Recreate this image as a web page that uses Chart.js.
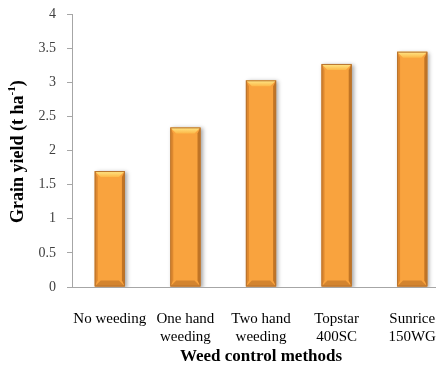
<!DOCTYPE html>
<html>
<head>
<meta charset="utf-8">
<script src="https://cdn.jsdelivr.net/npm/chart.js@4/dist/chart.umd.min.js"></script>
<style>
  html, body { margin: 0; padding: 0; background: #fff; overflow: hidden; }
  #wrap { width: 450px; height: 369px; }
</style>
</head>
<body>
<div id="wrap"><canvas id="yield-chart" width="450" height="369"></canvas></div>
<script>
// ─────────────────────────────────────────────
//  GRAIN YIELD BY WEED CONTROL METHOD
// ─────────────────────────────────────────────

const methods = [
  ['No weeding'],
  ['One hand', 'weeding'],
  ['Two hand', 'weeding'],
  ['Topstar', '400SC'],
  ['Sunrice', '150WG']
];
const grainYield = [1.70, 2.34, 3.03, 3.27, 3.45];
const yTicks = [0, 0.5, 1, 1.5, 2, 2.5, 3, 3.5, 4];

const SERIF = '"Liberation Serif", "Times New Roman", serif';
const AXIS_GREY = '#a6a6a6';

// soft drop shadow behind the bars
const barShadow = {
  id: 'barShadow',
  beforeDatasetsDraw(chart) {
    const ctx = chart.ctx;
    ctx.save();
    ctx.shadowColor = 'rgba(0,0,0,0.35)';
    ctx.shadowBlur = 4;
    ctx.shadowOffsetX = 2;
    ctx.shadowOffsetY = 1;
  },
  afterDatasetsDraw(chart) {
    chart.ctx.restore();
  }
};

// bevelled edges on each bar
const barBevel = {
  id: 'barBevel',
  afterDatasetsDraw(chart) {
    const ctx = chart.ctx;
    const meta = chart.getDatasetMeta(0);
    const b = 6;
    meta.data.forEach(bar => {
      const { x, y, base, width } = bar.getProps(['x', 'y', 'base', 'width'], true);
      const l = x - width / 2, r = x + width / 2;

      ctx.save();
      // left edge
      ctx.fillStyle = 'rgba(200,115,35,0.55)';
      ctx.beginPath();
      ctx.moveTo(l, y); ctx.lineTo(l + 3, y + b); ctx.lineTo(l + 3, base - b); ctx.lineTo(l, base);
      ctx.closePath(); ctx.fill();
      // right edge
      ctx.fillStyle = 'rgba(170,95,25,0.7)';
      ctx.beginPath();
      ctx.moveTo(r, y); ctx.lineTo(r - 3, y + b); ctx.lineTo(r - 3, base - b); ctx.lineTo(r, base);
      ctx.closePath(); ctx.fill();
      // top bevel
      const g = ctx.createLinearGradient(0, y, 0, y + b);
      g.addColorStop(0, '#ffe98a');
      g.addColorStop(1, '#fcb848');
      ctx.fillStyle = g;
      ctx.beginPath();
      ctx.moveTo(l, y); ctx.lineTo(r, y); ctx.lineTo(r - b, y + b); ctx.lineTo(l + b, y + b);
      ctx.closePath(); ctx.fill();
      // bottom bevel
      ctx.fillStyle = '#d3842f';
      ctx.beginPath();
      ctx.moveTo(l, base); ctx.lineTo(r, base); ctx.lineTo(r - b, base - b); ctx.lineTo(l + b, base - b);
      ctx.closePath(); ctx.fill();
      // outline
      ctx.strokeStyle = '#b8732e';
      ctx.lineWidth = 1;
      ctx.strokeRect(l + 0.5, y + 0.5, width - 1, base - y - 1);
      ctx.restore();
    });
  }
};

// rotated y title with superscript unit
const yTitle = {
  id: 'yTitle',
  afterDraw(chart) {
    const ctx = chart.ctx;
    const area = chart.chartArea;
    const main = 'Grain yield (t ha';
    const sup = '-1';
    const tail = ')';
    ctx.save();
    ctx.translate(18, (area.top + area.bottom) / 2 + 1);
    ctx.rotate(-Math.PI / 2);
    ctx.fillStyle = '#000';
    ctx.textBaseline = 'middle';
    ctx.font = 'bold 18px ' + SERIF;
    const wMain = ctx.measureText(main).width;
    const wTail = ctx.measureText(tail).width;
    ctx.font = 'bold 11px ' + SERIF;
    const wSup = ctx.measureText(sup).width;
    let cx = -(wMain + wSup + wTail) / 2;
    ctx.font = 'bold 18px ' + SERIF;
    ctx.fillText(main, cx, 0);
    cx += wMain;
    ctx.font = 'bold 11px ' + SERIF;
    ctx.fillText(sup, cx, -6);
    cx += wSup;
    ctx.font = 'bold 18px ' + SERIF;
    ctx.fillText(tail, cx, 0);
    ctx.restore();
  }
};

new Chart(document.getElementById('yield-chart').getContext('2d'), {
  type: 'bar',
  data: {
    labels: methods,
    datasets: [{
      data: grainYield,
      backgroundColor: '#f9a33e',
      borderWidth: 0,
      barPercentage: 0.4,
      categoryPercentage: 1
    }]
  },
  options: {
    responsive: false,
    animation: false,
    layout: { padding: { top: 0, left: 0, right: 0, bottom: 0 } },
    plugins: { legend: { display: false }, tooltip: { enabled: false } },
    scales: {
      x: {
        // hidden ticks only push the labels down
        grid: { display: false, drawTicks: true, tickLength: 23 },
        border: { display: true, color: AXIS_GREY, width: 1 },
        ticks: {
          color: '#000',
          padding: 0,
          maxRotation: 0,
          autoSkip: false,
          font: { family: SERIF, size: 15, lineHeight: 1.2 }
        },
        title: {
          display: true,
          text: 'Weed control methods',
          color: '#000',
          padding: { top: 0, bottom: 2 },
          font: { family: SERIF, size: 17, weight: 'bold', lineHeight: 1.2 }
        },
        afterFit(scale) { scale.height = 82; }
      },
      y: {
        min: 0,
        max: 4,
        afterBuildTicks(scale) { scale.ticks = yTicks.map(v => ({ value: v })); },
        grid: {
          drawOnChartArea: false,
          drawTicks: true,
          tickLength: 5,
          color: AXIS_GREY
        },
        border: { display: true, color: AXIS_GREY, width: 1 },
        ticks: {
          color: '#404040',
          padding: 11,
          // small line height keeps the top label from pushing the plot down
          font: { family: SERIF, size: 14, lineHeight: 0.45 },
          callback: v => String(v)
        },
        afterFit(scale) { scale.width = 72; }
      }
    }
  },
  plugins: [barShadow, barBevel, yTitle]
});
</script>
</body>
</html>
